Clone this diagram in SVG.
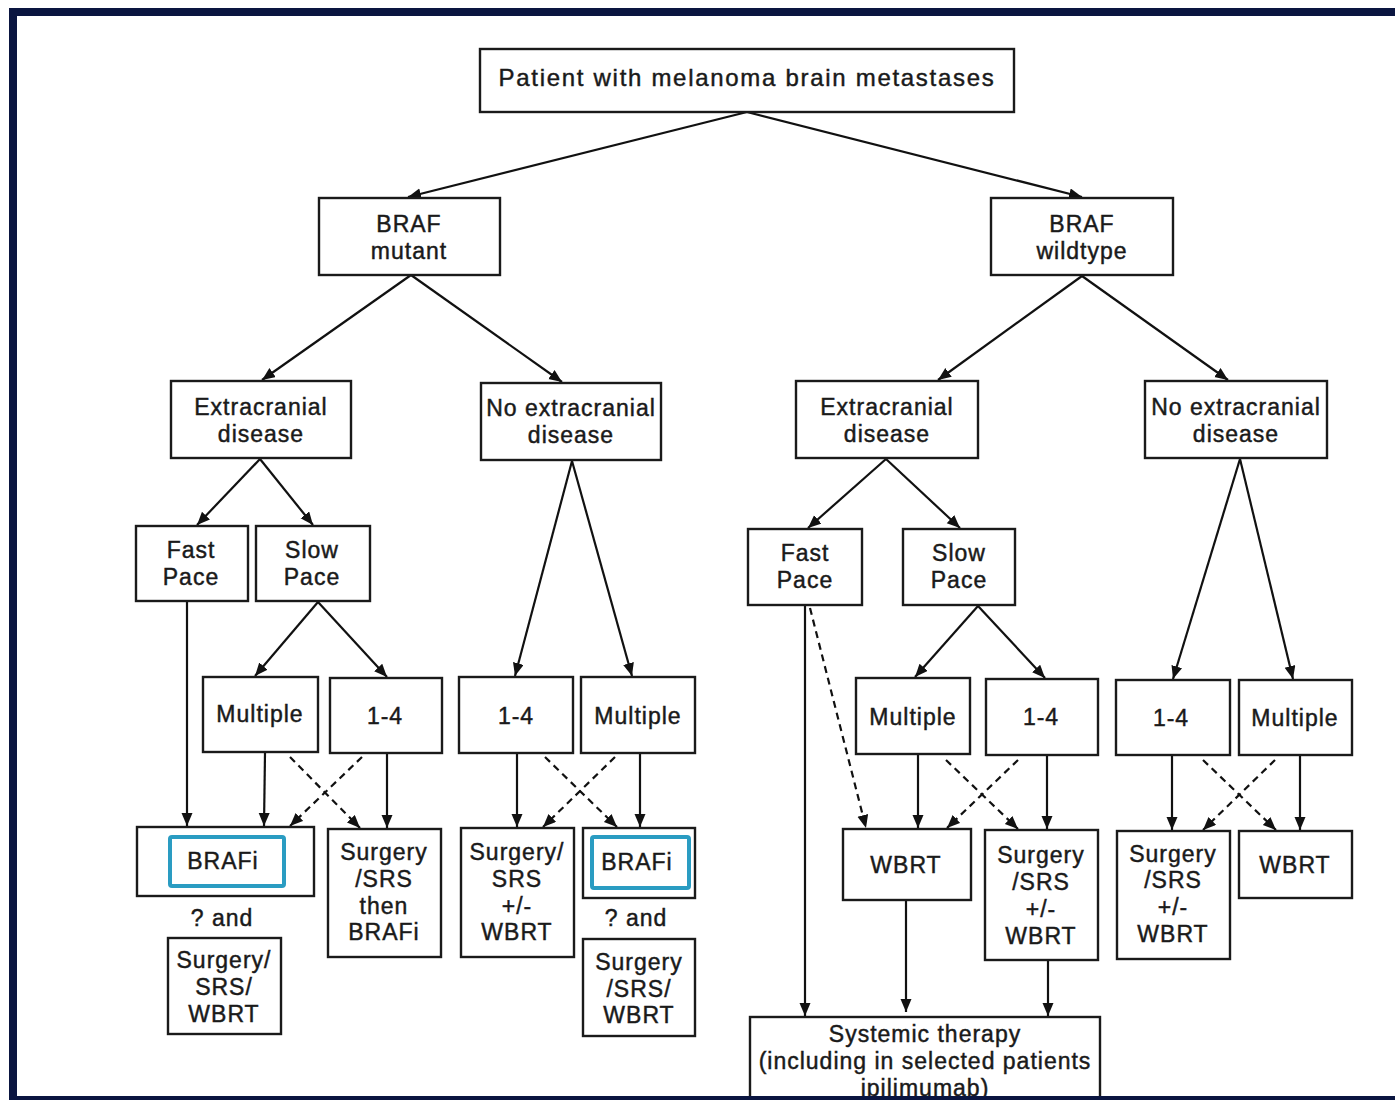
<svg xmlns="http://www.w3.org/2000/svg" width="1395" height="1100" viewBox="0 0 1395 1100">
<defs>
<marker id="ah" markerUnits="userSpaceOnUse" markerWidth="14" markerHeight="12" refX="13" refY="5.5" orient="auto">
<path d="M0,0 L13,5.5 L0,11 z" fill="#111"/>
</marker>
<style>
.box{fill:#fff;stroke:#1a1a1a;stroke-width:2.4}
.hl{fill:none;stroke:#2a9cc2;stroke-width:4}
.t{font-family:"Liberation Sans",Arial,sans-serif;font-size:23px;fill:#1a1a1a;stroke:#1a1a1a;stroke-width:0.45;text-anchor:middle;letter-spacing:1px}
.tt{font-size:24px;letter-spacing:1.7px}
.c{stroke:#111;stroke-width:2.2;fill:none;marker-end:url(#ah)}
.d{stroke-dasharray:7 5}
</style>
</defs>
<rect x="0" y="0" width="1395" height="1100" fill="#fff"/>

<g id="connectors">
<line class="c" x1="747" y1="112" x2="408" y2="197"/>
<line class="c" x1="747" y1="112" x2="1082" y2="197"/>
<line class="c" x1="411" y1="275" x2="262" y2="380"/>
<line class="c" x1="411" y1="275" x2="562" y2="382"/>
<line class="c" x1="1082" y1="276" x2="938" y2="380"/>
<line class="c" x1="1082" y1="276" x2="1228" y2="380"/>
<line class="c" x1="260" y1="459" x2="197" y2="525"/>
<line class="c" x1="260" y1="459" x2="313" y2="525"/>
<line class="c" x1="572" y1="461" x2="515" y2="676"/>
<line class="c" x1="572" y1="461" x2="632" y2="676"/>
<line class="c" x1="886" y1="459" x2="808" y2="528"/>
<line class="c" x1="886" y1="459" x2="960" y2="528"/>
<line class="c" x1="1240" y1="459" x2="1173" y2="679"/>
<line class="c" x1="1240" y1="459" x2="1293" y2="679"/>
<line class="c" x1="318" y1="602" x2="255" y2="676"/>
<line class="c" x1="318" y1="602" x2="387" y2="677"/>
<line class="c" x1="978" y1="606" x2="915" y2="677"/>
<line class="c" x1="978" y1="606" x2="1045" y2="678"/>
<line class="c" x1="187" y1="602" x2="187" y2="826"/>
<line class="c" x1="265" y1="753" x2="264" y2="826"/>
<line class="c" x1="387" y1="754" x2="387" y2="828"/>
<line class="c d" x1="290" y1="757" x2="360" y2="828"/>
<line class="c d" x1="362" y1="757" x2="290" y2="826"/>
<line class="c" x1="517" y1="754" x2="517" y2="827"/>
<line class="c" x1="640" y1="754" x2="640" y2="827"/>
<line class="c d" x1="545" y1="757" x2="617" y2="827"/>
<line class="c d" x1="615" y1="757" x2="543" y2="827"/>
<line class="c" x1="805" y1="606" x2="805" y2="1016"/>
<line class="c d" x1="810" y1="608" x2="866" y2="828"/>
<line class="c" x1="918" y1="755" x2="918" y2="828"/>
<line class="c" x1="1047" y1="756" x2="1047" y2="829"/>
<line class="c d" x1="946" y1="760" x2="1018" y2="829"/>
<line class="c d" x1="1018" y1="760" x2="947" y2="828"/>
<line class="c" x1="906" y1="901" x2="906" y2="1012"/>
<line class="c" x1="1048" y1="961" x2="1048" y2="1016"/>
<line class="c" x1="1172" y1="756" x2="1172" y2="830"/>
<line class="c" x1="1300" y1="756" x2="1300" y2="830"/>
<line class="c d" x1="1203" y1="760" x2="1276" y2="830"/>
<line class="c d" x1="1275" y1="760" x2="1203" y2="830"/>
</g>

<g id="n-root"><rect class="box" x="480" y="49" width="534" height="63"/><text class="t tt" x="747" y="86">Patient with melanoma brain metastases</text></g>
<g id="n-braf-mut"><rect class="box" x="319" y="198" width="181" height="77"/><text class="t" x="409" y="232">BRAF</text><text class="t" x="409" y="259">mutant</text></g>
<g id="n-braf-wt"><rect class="box" x="991" y="198" width="182" height="77"/><text class="t" x="1082" y="232">BRAF</text><text class="t" x="1082" y="259">wildtype</text></g>
<g id="n-ext-l"><rect class="box" x="171" y="381" width="180" height="77"/><text class="t" x="261" y="415">Extracranial</text><text class="t" x="261" y="442">disease</text></g>
<g id="n-noext-l"><rect class="box" x="481" y="383" width="180" height="77"/><text class="t" x="571" y="416">No extracranial</text><text class="t" x="571" y="443">disease</text></g>
<g id="n-ext-r"><rect class="box" x="796" y="381" width="182" height="77"/><text class="t" x="887" y="415">Extracranial</text><text class="t" x="887" y="442">disease</text></g>
<g id="n-noext-r"><rect class="box" x="1145" y="381" width="182" height="77"/><text class="t" x="1236" y="415">No extracranial</text><text class="t" x="1236" y="442">disease</text></g>
<g id="n-fast-l"><rect class="box" x="136" y="526" width="112" height="75"/><text class="t" x="191" y="558">Fast</text><text class="t" x="191" y="585">Pace</text></g>
<g id="n-slow-l"><rect class="box" x="256" y="526" width="114" height="75"/><text class="t" x="312" y="558">Slow</text><text class="t" x="312" y="585">Pace</text></g>
<g id="n-mult-l"><rect class="box" x="203" y="677" width="115" height="75"/><text class="t" x="260" y="722">Multiple</text></g>
<g id="n-14-l"><rect class="box" x="330" y="678" width="112" height="75"/><text class="t" x="385" y="724">1-4</text></g>
<g id="n-14-nel"><rect class="box" x="459" y="677" width="114" height="76"/><text class="t" x="516" y="724">1-4</text></g>
<g id="n-mult-nel"><rect class="box" x="581" y="677" width="114" height="76"/><text class="t" x="638" y="724">Multiple</text></g>
<g id="n-fast-r"><rect class="box" x="748" y="529" width="114" height="76"/><text class="t" x="805" y="561">Fast</text><text class="t" x="805" y="588">Pace</text></g>
<g id="n-slow-r"><rect class="box" x="903" y="529" width="112" height="76"/><text class="t" x="959" y="561">Slow</text><text class="t" x="959" y="588">Pace</text></g>
<g id="n-mult-r"><rect class="box" x="856" y="678" width="114" height="76"/><text class="t" x="913" y="725">Multiple</text></g>
<g id="n-14-r"><rect class="box" x="986" y="679" width="112" height="76"/><text class="t" x="1041" y="725">1-4</text></g>
<g id="n-14-ner"><rect class="box" x="1116" y="680" width="114" height="75"/><text class="t" x="1171" y="726">1-4</text></g>
<g id="n-mult-ner"><rect class="box" x="1239" y="680" width="113" height="75"/><text class="t" x="1295" y="726">Multiple</text></g>

<g id="n-brafi-l"><rect class="box" x="137" y="827" width="177" height="69"/><rect class="hl" x="170" y="837" width="114" height="49" rx="2"/><text class="t" x="223" y="869">BRAFi</text><text class="t" x="222" y="926">? and</text></g>
<g id="n-surg-then"><rect class="box" x="328" y="829" width="113" height="128"/><text class="t" x="384" y="860">Surgery</text><text class="t" x="384" y="887">/SRS</text><text class="t" x="384" y="914">then</text><text class="t" x="384" y="940">BRAFi</text></g>
<g id="n-ssw-l"><rect class="box" x="168" y="938" width="113" height="96"/><text class="t" x="224" y="968">Surgery/</text><text class="t" x="224" y="995">SRS/</text><text class="t" x="224" y="1022">WBRT</text></g>
<g id="n-surg-nel"><rect class="box" x="461" y="828" width="113" height="129"/><text class="t" x="517" y="860">Surgery/</text><text class="t" x="517" y="887">SRS</text><text class="t" x="517" y="914">+/-</text><text class="t" x="517" y="940">WBRT</text></g>
<g id="n-brafi-nel"><rect class="box" x="583" y="828" width="112" height="70"/><rect class="hl" x="592" y="837" width="97" height="51" rx="2"/><text class="t" x="637" y="870">BRAFi</text><text class="t" x="636" y="926">? and</text></g>
<g id="n-ssw-nel"><rect class="box" x="583" y="939" width="112" height="97"/><text class="t" x="639" y="970">Surgery</text><text class="t" x="639" y="997">/SRS/</text><text class="t" x="639" y="1023">WBRT</text></g>
<g id="n-wbrt-r"><rect class="box" x="843" y="829" width="128" height="71"/><text class="t" x="906" y="873">WBRT</text></g>
<g id="n-surg-r"><rect class="box" x="985" y="830" width="113" height="130"/><text class="t" x="1041" y="863">Surgery</text><text class="t" x="1041" y="890">/SRS</text><text class="t" x="1041" y="917">+/-</text><text class="t" x="1041" y="944">WBRT</text></g>
<g id="n-surg-ner"><rect class="box" x="1117" y="831" width="113" height="128"/><text class="t" x="1173" y="862">Surgery</text><text class="t" x="1173" y="888">/SRS</text><text class="t" x="1173" y="915">+/-</text><text class="t" x="1173" y="942">WBRT</text></g>
<g id="n-wbrt-ner"><rect class="box" x="1239" y="831" width="113" height="67"/><text class="t" x="1295" y="873">WBRT</text></g>
<g id="n-systemic"><rect class="box" x="750" y="1017" width="350" height="100"/><text class="t" x="925" y="1042">Systemic therapy</text><text class="t" x="925" y="1069">(including in selected patients</text><text class="t" x="925" y="1096">ipilimumab)</text></g>

<g id="frame" fill="#0a1540">
<rect x="9" y="8" width="1386" height="8"/>
<rect x="9" y="8" width="8" height="1092"/>
<rect x="9" y="1096" width="1386" height="4"/>
</g>
</svg>
